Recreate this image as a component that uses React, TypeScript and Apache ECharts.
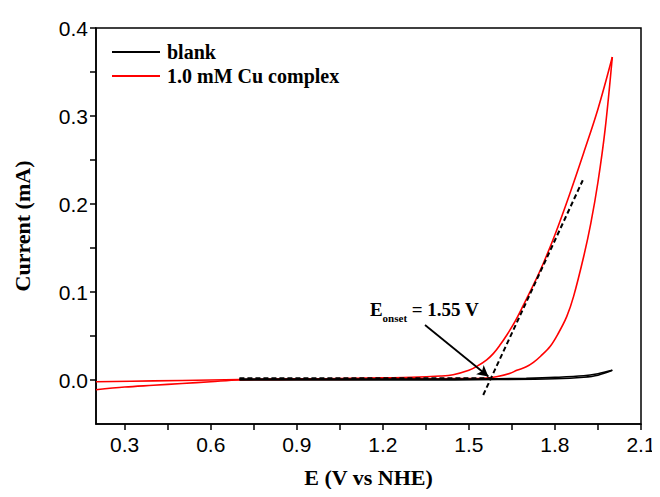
import React, { useEffect, useRef } from "react";
import * as echarts from "echarts";

// ---- axis ticks ----
const xLabelValues = [0.3, 0.6, 0.9, 1.2, 1.5, 1.8, 2.1];
const xTickValues = [0.3, 0.45, 0.6, 0.75, 0.9, 1.05, 1.2, 1.35, 1.5, 1.65, 1.8, 1.95, 2.1];
const yLabelValues = [0, 0.1, 0.2, 0.3, 0.4];
const yTickValues = [0, 0.05, 0.1, 0.15, 0.2, 0.25, 0.3, 0.35, 0.4];

// ---- 1.0 mM Cu complex CV (anodic sweep, lower branch) ----
const cuSweepOutE = [0.2, 0.3, 0.4, 0.5, 0.6, 0.7, 0.9, 1.2, 1.4, 1.55, 1.6, 1.644, 1.667, 1.7, 1.725, 1.75, 1.783, 1.81, 1.841, 1.865, 1.9, 1.925, 1.95, 1.975, 2.0];
const cuSweepOutI = [-0.011, -0.008, -0.006, -0.004, -0.002, 0.0, 0.0005, 0.001, 0.0015, 0.002, 0.004, 0.0076, 0.011, 0.015, 0.02, 0.027, 0.038, 0.052, 0.072, 0.095, 0.14, 0.178, 0.225, 0.285, 0.367];
// ---- return sweep (upper branch) ----
const cuSweepBackE = [2.0, 1.95, 1.9, 1.85, 1.8, 1.76, 1.725, 1.69, 1.66, 1.63, 1.609, 1.585, 1.562, 1.53, 1.5, 1.445, 1.4, 1.3, 1.2, 1.0, 0.8, 0.6, 0.4, 0.2];
const cuSweepBackI = [0.367, 0.308, 0.258, 0.21, 0.165, 0.133, 0.108, 0.085, 0.066, 0.05, 0.04, 0.03, 0.023, 0.016, 0.011, 0.006, 0.0045, 0.003, 0.0025, 0.0015, 0.001, 0.0, -0.001, -0.002];

// ---- blank CV ----
const blankOutE = [0.7, 1.0, 1.3, 1.5, 1.6, 1.7, 1.8, 1.9, 1.95, 2.0];
const blankOutI = [0.001, 0.001, 0.001, 0.001, 0.0015, 0.002, 0.003, 0.0048, 0.0072, 0.011];
const blankBackE = [2.0, 1.95, 1.9, 1.8, 1.6, 1.3, 1.0, 0.7];
const blankBackI = [0.011, 0.0055, 0.0032, 0.0015, 0.0005, 0.0, 0.0, 0.0];

// ---- onset construction ----
const baselineE = [0.7, 1.574];
const baselineI = [0.002, 0.002];
const tangentE = [1.55, 1.897];
const tangentI = [-0.017, 0.227];
const arrowFrom = [1.347, 0.0625];
const arrowTo = [1.568, 0.004];
const onsetLabelAt = [1.155, 0.0776];

const zip = (a: number[], b: number[]) => a.map((v, i) => [v, b[i]]);

const SERIF = "'Liberation Serif', 'Times New Roman', serif";
const SANS = "'Liberation Sans', Arial, sans-serif";

const GRID = { left: 96, right: 19, top: 28, bottom: 73 };
const W = 660;
const H = 497;

export default function App() {
  const ref = useRef<HTMLDivElement>(null);
  useEffect(() => {
    if (!ref.current) return;
    const chart = echarts.init(ref.current, undefined, { renderer: "svg" });
    const red = "#ff0000";
    const dashed = { color: "#000", width: 2, type: [5, 3] as any };
    const curve = (name: string, e: number[], i: number[], color: string, z: number) => ({
      name, type: "line", data: zip(e, i),
      showSymbol: false, symbol: "none", smooth: 0.35, color,
      lineStyle: { color, width: 1.6 }, z,
    });
    const tickLine = { color: "#000", width: 1.5 };
    chart.setOption({
      animation: false,
      backgroundColor: "#fff",
      grid: { ...GRID, show: true, borderColor: "#000", borderWidth: 1.5, backgroundColor: "transparent" },
      legend: {
        left: 107, top: 37, orient: "vertical", itemWidth: 48, itemHeight: 2, itemGap: 4,
        icon: "rect",
        data: ["blank", "1.0 mM Cu complex"],
        textStyle: { fontFamily: SERIF, fontWeight: "bold", fontSize: 20, color: "#000", padding: [0, 0, 0, 2] },
      },
      xAxis: {
        type: "value", min: 0.2, max: 2.1, position: "bottom",
        name: "E (V vs NHE)", nameLocation: "middle", nameGap: 42,
        nameTextStyle: { fontFamily: SERIF, fontWeight: "bold", fontSize: 22, color: "#000" },
        axisLine: { show: true, onZero: false, lineStyle: tickLine },
        axisTick: { show: true, inside: false, length: 6, customValues: xTickValues, lineStyle: tickLine },
        axisLabel: {
          customValues: xLabelValues, margin: 10, fontFamily: SANS, fontSize: 21, color: "#000",
          formatter: (v: number) => v.toFixed(1),
        },
        splitLine: { show: false },
      },
      yAxis: {
        type: "value", min: -0.05, max: 0.4, position: "left",
        name: "Current (mA)", nameLocation: "middle", nameGap: 63,
        nameTextStyle: { fontFamily: SERIF, fontWeight: "bold", fontSize: 22, color: "#000" },
        axisLine: { show: true, onZero: false, lineStyle: tickLine },
        axisTick: { show: true, inside: false, length: 6, customValues: yTickValues, lineStyle: tickLine },
        axisLabel: {
          customValues: yLabelValues, margin: 8, fontFamily: SANS, fontSize: 21, color: "#000",
          formatter: (v: number) => v.toFixed(1),
        },
        splitLine: { show: false },
      },
      series: [
        curve("1.0 mM Cu complex", cuSweepOutE, cuSweepOutI, red, 2),
        curve("1.0 mM Cu complex", cuSweepBackE, cuSweepBackI, red, 2),
        curve("blank", blankOutE, blankOutI, "#000", 3),
        curve("blank", blankBackE, blankBackI, "#000", 3),
        {
          name: "baseline", type: "line", data: zip(baselineE, baselineI),
          showSymbol: false, symbol: "none", lineStyle: dashed, z: 4,
        },
        {
          name: "tangent", type: "line", data: zip(tangentE, tangentI),
          showSymbol: false, symbol: "none", lineStyle: dashed, z: 4,
          markLine: {
            silent: true, symbol: ["none", "arrow"], symbolSize: [9, 11],
            label: { show: false },
            lineStyle: { color: "#000", width: 1.8, type: "solid" },
            data: [[{ coord: arrowFrom }, { coord: arrowTo }]],
          },
          markPoint: {
            silent: true, symbol: "circle", symbolSize: 0,
            data: [{ coord: onsetLabelAt }],
            label: {
              show: true, position: [0, 0], align: "left", verticalAlign: "middle",
              formatter: "{e|E}{s|onset}{e| = 1.55 V}",
              rich: {
                e: { fontFamily: SERIF, fontWeight: "bold", fontSize: 19, color: "#000", lineHeight: 24, verticalAlign: "top" },
                s: { fontFamily: SERIF, fontWeight: "bold", fontSize: 11, color: "#000", lineHeight: 11, verticalAlign: "bottom" },
              },
            },
          },
        },
      ],
    });
    return () => chart.dispose();
  }, []);
  return <div ref={ref} style={{ width: W, height: H, margin: -8 }} />;
}
